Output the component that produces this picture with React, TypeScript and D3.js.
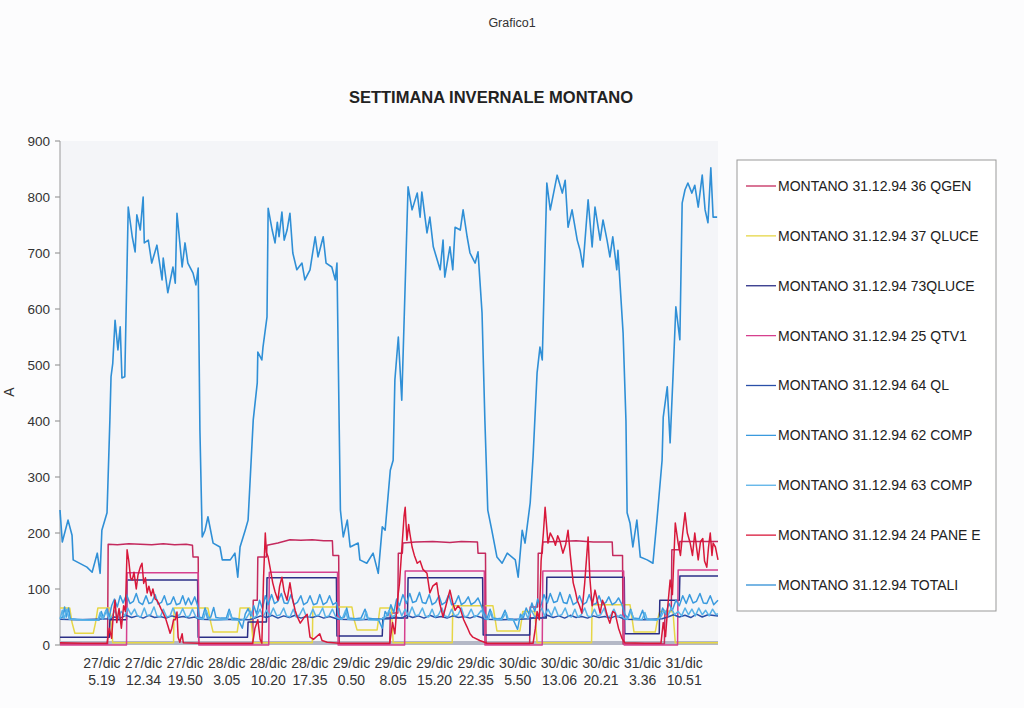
import React from "react";
import * as d3 from "d3";

// hours counted from 27/dic 0.00
type Pt = [number, number];

const seriesNames = [
  "MONTANO 31.12.94 36 QGEN",
  "MONTANO 31.12.94 37 QLUCE",
  "MONTANO 31.12.94 73QLUCE",
  "MONTANO 31.12.94 25 QTV1",
  "MONTANO 31.12.94 64 QL",
  "MONTANO 31.12.94 62 COMP",
  "MONTANO 31.12.94 63 COMP",
  "MONTANO 31.12.94 24 PANE E",
  "MONTANO 31.12.94 TOTALI",
];

const seriesColors = [
  "#c42a5e",
  "#e6d646",
  "#2b2f86",
  "#d6408e",
  "#2a4fa8",
  "#3a9ade",
  "#58b2e8",
  "#d8183a",
  "#2f8fd6",
];

const qgen: Pt[] = [
  [-2, 2], [6.3, 2], [6.4, 180], [8, 179], [10, 181], [12, 180], [14, 179], [16, 181], [18, 179], [20, 180],
  [21.1, 178], [21.2, 157], [22.1, 157], [22.2, 2], [31.6, 2], [31.7, 80], [32.4, 80], [32.5, 157], [34.0, 157],
  [34.1, 178], [36, 182], [38.1, 188], [40, 187], [42, 188], [44, 186], [45.5, 186], [45.6, 160], [46.6, 160],
  [46.7, 2], [55.5, 2], [55.6, 57], [56.9, 57], [57.0, 164], [57.7, 164], [57.8, 182], [60, 184], [63, 185],
  [66, 183], [68, 185], [70.8, 184], [70.9, 164], [72.2, 164], [72.3, 2], [79.9, 2], [80.0, 68], [81.3, 68],
  [81.4, 164], [82.1, 164], [82.2, 184], [85, 185], [88, 186], [91, 184], [94.3, 184], [94.4, 160], [96.1, 160],
  [96.2, 2], [103.4, 2], [103.5, 60], [104.6, 60], [104.7, 170], [106.0, 170], [106.1, 185], [112.75, 185],
];

const qluce: Pt[] = [
  [-2, 66], [-0.3, 66], [0.1, 40], [0.6, 21], [3.8, 21], [4.2, 40], [4.6, 66], [6.7, 66], [7.2, 4], [17.8, 4],
  [17.9, 66], [23.8, 66], [24.3, 40], [24.7, 23], [28.9, 23], [29.2, 45], [29.4, 66], [31.1, 66], [31.7, 4],
  [42.0, 4], [42.1, 68], [48.9, 68], [49.3, 45], [49.8, 27], [53.3, 27], [53.6, 50], [53.8, 66], [55.8, 66],
  [56.1, 4], [66.4, 4], [66.5, 70], [73.5, 70], [73.9, 45], [74.2, 25], [78.2, 25], [78.5, 45], [78.7, 60],
  [80.8, 60], [81.2, 4], [90.7, 4], [90.8, 72], [97.4, 72], [97.8, 45], [98.1, 23], [101.8, 23], [102.2, 45],
  [102.6, 60], [104.9, 60], [105.3, 4], [112.75, 4],
];

const qluce73: Pt[] = [
  [-2, 14], [6.6, 14], [6.7, 45], [9.6, 45], [9.7, 116], [22.0, 116], [22.1, 14], [30.7, 14], [30.8, 41],
  [34.0, 41], [34.1, 120], [46.2, 120], [46.3, 16], [54.2, 16], [54.3, 48], [58.6, 48], [58.7, 120], [71.7, 120],
  [71.8, 18], [79.9, 18], [80.0, 48], [82.8, 48], [82.9, 121], [96.4, 121], [96.5, 20], [102.5, 20], [102.6, 80],
  [106.0, 80], [106.1, 123], [112.75, 123],
];

const qtv1: Pt[] = [
  [-2, 0], [9.6, 0], [9.7, 129], [22.1, 129], [22.2, 0], [34.4, 0], [34.5, 130], [46.4, 130], [46.5, 0],
  [58.1, 0], [58.2, 132], [72.0, 132], [72.1, 0], [82.1, 0], [82.2, 132], [96.3, 132], [96.4, 0], [105.7, 0],
  [105.8, 134], [112.75, 134],
];

const ql64: Pt[] = [
  [-2, 46], [1, 45], [4, 46], [6.7, 47], [7.5, 50], [8.5, 48], [9.5, 53], [10.5, 49], [11.5, 52], [12.5, 48],
  [13.5, 53], [14.5, 49], [15.5, 51], [16.5, 48], [17.5, 52], [18.5, 49], [19.5, 51], [20.5, 48], [21.5, 50],
  [22.4, 46], [25, 45], [28, 46], [31, 45], [32, 48], [33, 52], [34, 49], [35, 53], [36, 48], [37, 52], [38, 49],
  [39, 53], [40, 48], [41, 51], [42, 49], [43, 52], [44, 48], [45, 51], [46.5, 46], [50, 45], [53, 46],
  [55.5, 47], [56.5, 50], [57.5, 48], [58.5, 53], [59.5, 49], [60.5, 52], [61.5, 48], [62.5, 53], [63.5, 49],
  [64.5, 51], [65.5, 48], [66.5, 52], [67.5, 49], [68.5, 51], [69.5, 48], [70.5, 52], [71.5, 49], [72.2, 46],
  [75, 45], [78, 46], [80, 47], [81, 50], [82, 48], [83, 53], [84, 49], [85, 52], [86, 48], [87, 53], [88, 49],
  [89, 51], [90, 48], [91, 52], [92, 49], [93, 51], [94, 48], [95, 52], [96.5, 46], [100, 45], [103, 47],
  [104, 50], [105, 54], [106, 50], [107, 53], [108, 49], [109, 55], [110, 50], [111, 54], [112.75, 52],
];

const comp62: Pt[] = [
  [-2, 48], [-1.5, 50], [-1.2, 68], [-0.9, 50], [-0.5, 66], [-0.2, 47], [1, 46], [2, 45], [3, 45], [4, 45],
  [4.8, 44], [5.2, 60], [5.6, 48], [6.2, 65], [6.6, 50],
  [7.0, 70], [7.5, 82], [8.0, 68], [8.5, 88], [9.0, 75], [9.6, 90], [10.2, 74], [10.8, 78], [11.3, 92], [11.8, 76],
  [12.4, 72], [13, 88], [13.5, 74], [14, 76], [14.6, 90], [15.1, 73], [15.7, 76], [16.2, 88], [16.7, 72],
  [17.3, 74], [17.8, 86], [18.3, 72], [18.9, 74], [19.4, 88], [19.9, 72], [20.4, 84], [20.9, 72], [21.5, 86],
  [22.0, 70], [22.3, 50],
  [22.8, 48], [23.3, 66], [23.7, 48], [24.3, 50], [24.8, 67], [25.2, 49], [26, 48], [27, 48], [27.5, 64], [28, 48],
  [29, 47], [29.8, 30], [30.3, 55], [30.8, 65], [31.3, 52], [31.8, 70], [32.3, 55],
  [32.8, 80], [33.3, 65], [33.8, 88], [34.3, 72], [34.9, 90], [35.4, 74], [36, 78], [36.6, 92], [37.1, 75],
  [37.7, 74], [38.3, 90], [38.8, 72], [39.4, 76], [40, 88], [40.5, 72], [41.1, 76], [41.6, 88], [42.2, 72],
  [42.8, 74], [43.3, 90], [43.9, 72], [44.5, 76], [45, 88], [45.6, 72], [46.2, 76], [46.6, 55],
  [47, 48], [47.6, 50], [48, 66], [48.4, 48], [49.5, 47], [50.5, 48], [51.2, 64], [51.6, 48], [52.5, 47],
  [53.5, 46], [54.2, 30], [54.7, 60], [55.2, 52], [55.7, 72], [56.2, 58],
  [56.7, 82], [57.2, 70], [57.8, 90], [58.4, 74], [59, 92], [59.5, 76], [60.1, 78], [60.7, 94], [61.2, 76],
  [61.8, 74], [62.4, 90], [62.9, 72], [63.5, 76], [64.1, 88], [64.6, 72], [65.2, 76], [65.8, 90], [66.3, 72],
  [66.9, 74], [67.5, 88], [68, 72], [68.6, 76], [69.2, 86], [69.7, 72], [70.3, 76], [70.9, 84], [71.4, 72], [72, 56],
  [72.5, 48], [73, 64], [73.4, 48], [74.3, 47], [75, 48], [75.6, 62], [76, 47], [77, 46], [77.8, 28], [78.3, 55],
  [78.8, 48], [79.3, 66], [79.8, 55], [80.3, 75], [80.8, 60],
  [81.3, 82], [81.8, 68], [82.4, 90], [83, 75], [83.5, 92], [84.1, 76], [84.7, 78], [85.2, 94], [85.8, 76],
  [86.4, 74], [86.9, 90], [87.5, 72], [88.1, 76], [88.6, 88], [89.2, 72], [89.8, 76], [90.3, 90], [90.9, 72],
  [91.5, 74], [92, 88], [92.6, 72], [93.2, 76], [93.7, 86], [94.3, 72], [94.9, 76], [95.4, 84], [96, 72], [96.5, 55],
  [97, 48], [97.5, 64], [98, 48], [99, 47], [99.6, 62], [100, 47], [101, 46], [102, 46], [102.6, 48], [103.1, 66],
  [103.6, 55], [104.2, 74], [104.8, 62],
  [105.4, 80], [106, 70], [106.6, 88], [107.2, 74], [107.8, 90], [108.4, 75], [109, 78], [109.6, 92], [110.2, 75],
  [110.8, 74], [111.4, 88], [112, 72], [112.75, 80],
];

const comp63: Pt[] = [
  [-2, 46], [-1.6, 62], [-1.3, 47], [-0.8, 64], [-0.4, 46], [1, 45], [3, 44], [4.6, 44], [5.0, 58], [5.4, 46],
  [6.0, 62], [6.5, 47],
  [7, 50], [7.6, 62], [8.1, 48], [8.7, 60], [9.3, 52], [9.8, 66], [10.4, 54], [11, 64], [11.5, 52], [12.1, 50],
  [12.7, 66], [13.2, 52], [13.8, 54], [14.4, 68], [14.9, 52], [15.5, 50], [16, 64], [16.6, 50], [17.2, 52],
  [17.7, 66], [18.3, 52], [18.9, 54], [19.4, 65], [20, 50], [20.6, 52], [21.1, 64], [21.7, 50], [22.3, 47],
  [23, 46], [23.5, 62], [24, 46], [26, 45], [27.2, 46], [27.6, 60], [28, 45], [29.5, 44], [30.5, 48], [31.2, 60],
  [31.7, 48],
  [32.3, 52], [32.9, 64], [33.4, 50], [34, 62], [34.6, 52], [35.2, 66], [35.8, 52], [36.4, 54], [37, 66],
  [37.5, 52], [38.1, 50], [38.7, 64], [39.2, 50], [39.8, 54], [40.4, 66], [40.9, 52], [41.5, 50], [42.1, 64],
  [42.6, 52], [43.2, 54], [43.8, 66], [44.3, 50], [44.9, 52], [45.5, 64], [46.1, 50], [46.6, 47],
  [47.2, 46], [47.8, 62], [48.2, 46], [50, 45], [51, 46], [51.4, 60], [51.8, 45], [53.5, 44], [54.8, 50],
  [55.4, 62], [55.9, 50],
  [56.5, 54], [57.1, 66], [57.6, 52], [58.2, 64], [58.8, 52], [59.4, 68], [60, 52], [60.6, 54], [61.2, 66],
  [61.7, 52], [62.3, 50], [62.9, 64], [63.4, 50], [64, 54], [64.6, 66], [65.1, 52], [65.7, 50], [66.3, 64],
  [66.8, 52], [67.4, 54], [68, 66], [68.5, 50], [69.1, 52], [69.7, 64], [70.3, 50], [70.9, 54], [71.5, 62], [72.1, 47],
  [72.7, 46], [73.2, 60], [73.6, 46], [75, 45], [75.8, 58], [76.2, 45], [77.6, 44], [78.5, 50], [79.1, 60],
  [79.6, 48], [80.2, 62], [80.8, 50],
  [81.4, 54], [82, 66], [82.5, 52], [83.1, 64], [83.7, 52], [84.3, 68], [84.9, 52], [85.5, 54], [86.1, 66],
  [86.6, 52], [87.2, 50], [87.8, 64], [88.3, 50], [88.9, 54], [89.5, 66], [90, 52], [90.6, 50], [91.2, 64],
  [91.7, 52], [92.3, 54], [92.9, 66], [93.4, 50], [94, 52], [94.6, 64], [95.2, 50], [95.8, 54], [96.4, 47],
  [97, 46], [97.6, 62], [98, 46], [99.5, 45], [100, 58], [100.4, 45], [102, 44], [102.8, 50], [103.4, 62],
  [104, 52], [104.6, 66], [105.2, 54],
  [105.8, 60], [106.4, 52], [107, 66], [107.6, 54], [108.2, 64], [108.8, 52], [109.4, 66], [110, 54], [110.6, 62],
  [111.2, 52], [111.8, 64], [112.4, 54], [112.75, 56],
];

const paneE: Pt[] = [
  [-2, 4], [2, 3], [6.2, 3], [6.6, 30], [7.0, 12], [7.3, 55], [7.6, 80], [7.9, 40], [8.3, 65], [8.7, 30], [9.1, 70],
  [9.4, 60], [9.7, 170], [10.0, 150], [10.3, 120], [10.6, 116], [10.9, 130], [11.3, 100], [11.6, 125], [12.0, 139],
  [12.3, 146], [12.6, 110], [12.9, 120], [13.2, 93], [13.5, 105], [13.9, 88], [14.2, 100], [14.6, 82], [14.9, 80],
  [15.3, 72], [15.6, 65], [16.0, 57], [16.4, 48], [16.8, 35], [17.2, 21], [17.5, 30], [17.8, 45], [18.1, 45],
  [18.4, 59], [18.6, 14], [18.9, 5], [19.3, 20], [19.5, 4], [22.4, 3], [26, 3], [31.6, 3],
  [32.0, 30], [32.5, 45], [32.9, 10], [33.2, 3], [33.5, 120], [33.8, 200], [34.0, 165], [34.3, 157], [34.6, 140],
  [35.1, 111], [35.5, 95], [36.0, 80], [36.3, 105], [36.7, 121], [37.1, 95], [37.6, 80], [38.1, 111], [38.5, 85],
  [39.0, 62], [39.4, 50], [39.9, 39], [40.5, 48], [41.1, 55], [41.6, 14], [42.2, 10], [43.3, 20], [43.7, 8],
  [44.6, 5], [46.7, 3], [50, 3], [55.5, 3],
  [56.0, 40], [56.4, 20], [56.8, 75], [57.2, 110], [57.6, 170], [58.0, 230], [58.2, 246], [58.5, 187], [58.8, 215],
  [59.0, 200], [59.4, 175], [59.8, 160], [60.3, 146], [60.8, 150], [61.3, 135], [62.0, 128], [62.5, 93],
  [63.0, 105], [63.7, 111], [64.2, 75], [64.8, 50], [65.3, 70], [66.0, 98], [66.5, 75], [66.9, 62], [67.4, 70],
  [67.8, 65], [68.4, 45], [69.0, 32], [69.5, 20], [70.0, 14], [71.2, 8], [72.5, 3], [76, 3], [80.5, 3],
  [80.9, 30], [81.2, 60], [81.6, 45], [81.9, 150], [82.3, 200], [82.6, 246], [83.1, 182], [83.5, 200], [84.0, 190],
  [84.4, 178], [84.8, 195], [85.2, 185], [85.7, 164], [86.2, 180], [86.6, 205], [87.0, 160], [87.5, 111],
  [87.9, 95], [88.2, 80], [88.6, 70], [89.0, 57], [89.5, 110], [90.1, 193], [90.4, 120], [90.8, 70], [91.3, 98],
  [91.8, 75], [92.2, 57], [92.6, 80], [93.0, 70], [93.5, 50], [93.9, 39], [94.4, 60], [94.8, 57], [95.4, 30],
  [96.0, 12], [96.5, 4], [100, 3], [102.8, 3],
  [103.2, 40], [103.6, 15], [104.0, 70], [104.4, 116], [104.8, 90], [105.3, 218], [105.8, 182], [106.2, 160],
  [106.6, 200], [107.0, 236], [107.4, 200], [107.9, 182], [108.3, 160], [108.7, 200], [109.0, 175], [109.3, 152],
  [109.7, 185], [110.1, 190], [110.4, 150], [110.8, 139], [111.1, 175], [111.4, 200], [111.7, 160], [111.9, 182],
  [112.3, 175], [112.75, 152],
];

const totali: Pt[] = [
  [-2.0, 241], [-1.6, 184], [-0.6, 223], [0.1, 196], [0.3, 152], [2.7, 139], [3.6, 130], [4.5, 164], [5.0, 128],
  [5.3, 205], [6.2, 236], [6.7, 402], [6.9, 479], [7.2, 503], [7.6, 580], [8.1, 527], [8.5, 568], [8.8, 477],
  [9.3, 479], [9.9, 782], [10.6, 729], [11.1, 702], [11.4, 768], [12.0, 741], [12.5, 800], [12.7, 718],
  [13.4, 723], [14.0, 682], [14.9, 714], [15.8, 652], [16.0, 691], [16.8, 629], [17.7, 675], [18.1, 646],
  [18.4, 771], [19.3, 675], [19.8, 718], [20.3, 682], [21.2, 664], [21.7, 643], [22.1, 673], [22.4, 384],
  [22.8, 193], [23.3, 205], [23.8, 229], [24.7, 182], [25.9, 175], [26.3, 152], [27.7, 152], [28.5, 164],
  [29.0, 121], [29.4, 175], [30.3, 205], [30.8, 223], [31.7, 402], [32.4, 468], [32.5, 523], [33.2, 509],
  [33.4, 532], [34.1, 586], [34.3, 780], [35.0, 741], [35.5, 718], [35.9, 755], [36.2, 729], [36.7, 773],
  [37.1, 723], [37.6, 741], [38.1, 771], [38.6, 700], [39.3, 670], [40.2, 682], [40.7, 652], [41.6, 670],
  [42.5, 729], [43.0, 693], [43.9, 729], [44.4, 682], [45.4, 675], [46.0, 652], [46.3, 682], [46.7, 384],
  [46.9, 241], [47.4, 193], [48.1, 223], [48.6, 175], [50.0, 182], [50.3, 152], [51.5, 146], [52.6, 164],
  [53.5, 128], [54.2, 211], [54.7, 205], [55.6, 312], [56.1, 330], [56.4, 473], [57.0, 550], [57.6, 437],
  [58.7, 818], [59.4, 777], [60.3, 807], [60.8, 764], [61.1, 809], [62.0, 736], [62.5, 764], [63.1, 711],
  [64.3, 670], [64.8, 723], [65.1, 657], [66.0, 711], [66.5, 670], [66.9, 746], [67.8, 741], [68.3, 777],
  [69.0, 729], [69.5, 700], [70.4, 682], [70.9, 702], [71.6, 593], [72.1, 400], [72.6, 241], [73.3, 205],
  [74.2, 157], [75.1, 146], [76.0, 164], [77.4, 152], [77.9, 121], [78.6, 205], [79.1, 182], [80.0, 254],
  [80.5, 336], [81.2, 486], [81.7, 532], [82.1, 509], [82.9, 825], [83.5, 777], [84.7, 839], [85.6, 807],
  [86.1, 830], [86.6, 746], [87.3, 777], [88.2, 723], [88.7, 705], [89.2, 675], [90.1, 795], [90.8, 711],
  [91.3, 782], [92.2, 723], [92.7, 759], [93.4, 723], [93.9, 693], [94.4, 729], [95.1, 670], [95.3, 705],
  [96.2, 557], [96.7, 400], [96.9, 236], [97.4, 218], [97.9, 175], [98.6, 223], [99.2, 157], [100.4, 152],
  [101.4, 146], [102.1, 223], [103.0, 330], [103.2, 407], [103.9, 461], [104.4, 361], [104.9, 479], [105.4, 604],
  [106.1, 545], [106.5, 789], [107.0, 813], [107.5, 825], [108.2, 807], [108.7, 821], [109.3, 782], [110.0, 839],
  [110.5, 777], [111.0, 754], [111.5, 852], [111.9, 764], [112.6, 764],
];

const seriesData: Pt[][] = [qgen, qluce, qluce73, qtv1, ql64, comp62, comp63, paneE, totali];

const tickDays = [
  "27/dic", "27/dic", "27/dic", "28/dic", "28/dic", "28/dic", "29/dic", "29/dic",
  "29/dic", "29/dic", "30/dic", "30/dic", "30/dic", "31/dic", "31/dic",
];
const tickTimes = [
  "5.19", "12.34", "19.50", "3.05", "10.20", "17.35", "0.50", "8.05",
  "15.20", "22.35", "5.50", "13.06", "20.21", "3.36", "10.51",
];
const yTicks = [0, 100, 200, 300, 400, 500, 600, 700, 800, 900];

const toHours = (day: string, time: string) => {
  const d = parseInt(day.split("/")[0], 10);
  const [hh, mm] = time.split(".").map(Number);
  return (d - 27) * 24 + hh + mm / 60;
};

const FONT = "'Liberation Sans', Arial, sans-serif";

export default function App() {
  const x = d3.scaleLinear().domain([-2, 112.75]).range([60, 718]);
  const y = d3.scaleLinear().domain([0, 900]).range([645, 141]);
  const line = d3
    .line<Pt>()
    .x((d) => x(d[0]))
    .y((d) => y(d[1]));

  const legendY = d3.scalePoint<number>().domain(d3.range(seriesNames.length)).range([186, 585]);

  return (
    <svg
      width={1024}
      height={708}
      style={{ position: "absolute", left: 0, top: 0, background: "#fcfcfd" }}
      fontFamily={FONT}
    >
      <text x={512} y={27} textAnchor="middle" fontSize={12.5} fill="#333">
        Grafico1
      </text>
      <text x={491} y={103} textAnchor="middle" fontSize={16.5} fontWeight="bold" fill="#222">
        SETTIMANA INVERNALE MONTANO
      </text>

      <rect x={60} y={141} width={658} height={504} fill="#f4f5f8" />

      {yTicks.map((t) => (
        <g key={t}>
          <line x1={55} x2={60} y1={y(t)} y2={y(t)} stroke="#888" />
          <text x={50} y={y(t)} dy="0.35em" textAnchor="end" fontSize={13.5} fill="#333">
            {t}
          </text>
        </g>
      ))}
      <line x1={60} x2={60} y1={141} y2={645} stroke="#999" />
      <line x1={60} x2={718} y1={643} y2={643} stroke="#b4b8c6" strokeWidth={4} />
      <text transform="translate(14,392) rotate(-90)" textAnchor="middle" fontSize={14} fill="#333">
        A
      </text>

      {tickDays.map((d, i) => {
        const px = x(toHours(d, tickTimes[i]));
        return (
          <text key={i} x={px} textAnchor="middle" fontSize={14} fill="#333">
            <tspan x={px} y={668}>{d}</tspan>
            <tspan x={px} y={685}>{tickTimes[i]}</tspan>
          </text>
        );
      })}

      <g fill="none" strokeLinejoin="round">
        {seriesData.map((s, i) => (
          <path
            key={i}
            d={line(s) || ""}
            stroke={seriesColors[i]}
            strokeWidth={i === 8 ? 1.6 : 1.5}
          />
        ))}
      </g>

      <rect x={737} y={160} width={259} height={451} fill="#fff" stroke="#999" />
      {seriesNames.map((n, i) => {
        const ly = legendY(i) || 0;
        return (
          <g key={n}>
            <line x1={746} x2={776} y1={ly} y2={ly} stroke={seriesColors[i]} strokeWidth={1.3} />
            <text x={778} y={ly} dy="0.35em" fontSize={14} fill="#222">
              {n}
            </text>
          </g>
        );
      })}
    </svg>
  );
}
